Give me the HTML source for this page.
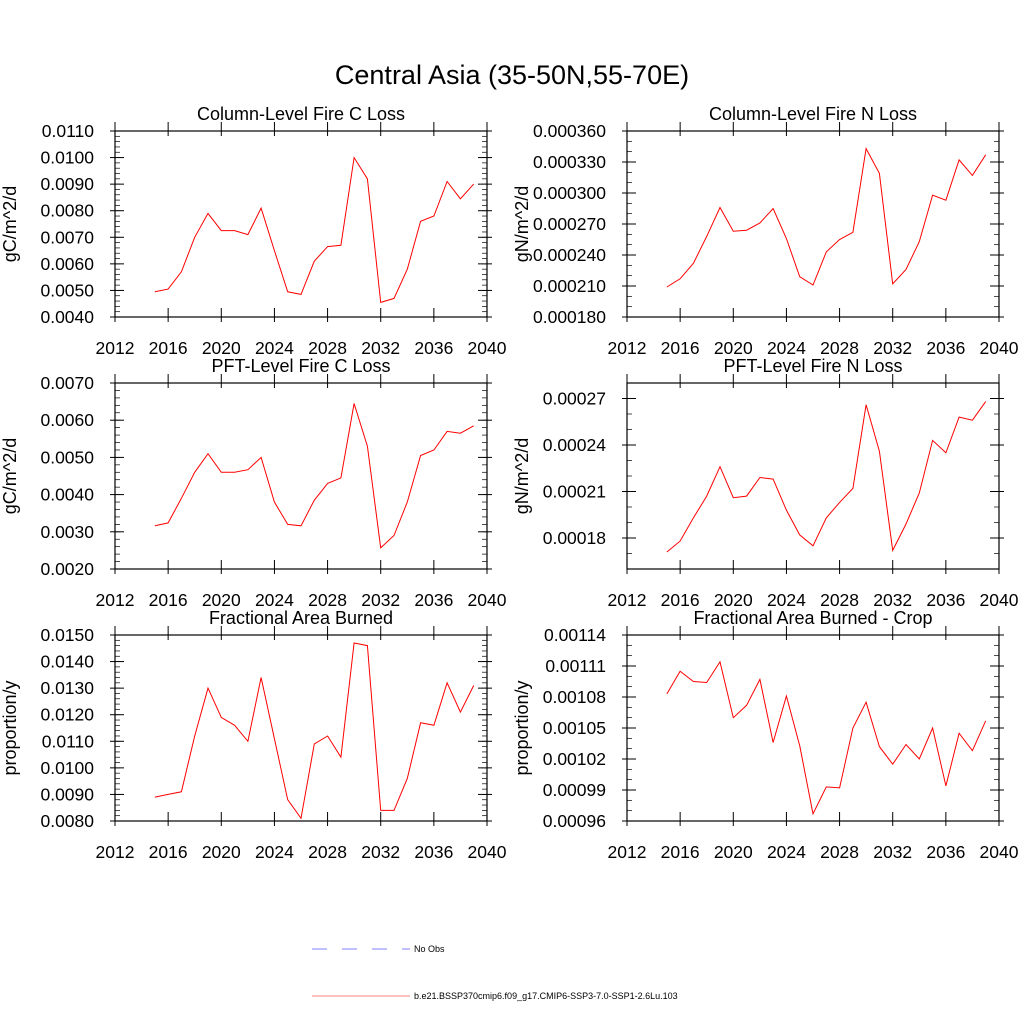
<!DOCTYPE html>
<html><head><meta charset="utf-8">
<style>
html,body{margin:0;padding:0;background:#fff;}
svg{display:block;font-family:"Liberation Sans",Arial,sans-serif;}
</style></head>
<body>
<svg id="chart" width="1024" height="1024" viewBox="0 0 1024 1024" xmlns="http://www.w3.org/2000/svg">
<text x="512" y="84" text-anchor="middle" font-size="27">Central Asia (35-50N,55-70E)</text>
<g>
<g>
<line x1="312" y1="949" x2="410" y2="949" stroke="#8080ff" stroke-width="1" stroke-dasharray="15,15"/>
<text x="414" y="952" font-size="9">No Obs</text>
</g>
<g>
<line x1="312" y1="996" x2="410" y2="996" stroke="#ff8080" stroke-width="1"/>
<text x="414" y="999" font-size="9">b.e21.BSSP370cmip6.f09_g17.CMIP6-SSP3-7.0-SSP1-2.6Lu.103</text>
</g>
</g>
</svg>
<script>
const years = [2015,2016,2017,2018,2019,2020,2021,2022,2023,2024,2025,2026,2027,2028,2029,2030,2031,2032,2033,2034,2035,2036,2037,2038,2039];
const xTickLabels = ["2012","2016","2020","2024","2028","2032","2036","2040"];
const colFireC = [0.00495,0.00505,0.0057,0.0070,0.0079,0.00725,0.00725,0.0071,0.0081,0.0065,0.00495,0.00485,0.0061,0.00665,0.0067,0.0100,0.0092,0.00455,0.0047,0.0058,0.0076,0.0078,0.0091,0.00845,0.0090];
const colFireN = [0.000209,0.000217,0.000232,0.000258,0.000286,0.000263,0.000264,0.000271,0.000285,0.000256,0.000219,0.000211,0.000243,0.000255,0.000262,0.000343,0.000319,0.000212,0.000226,0.000253,0.000298,0.000293,0.000332,0.000317,0.000337];
const pftFireC = [0.00316,0.00324,0.0039,0.0046,0.0051,0.0046,0.0046,0.00467,0.0050,0.0038,0.0032,0.00316,0.00385,0.0043,0.00445,0.00645,0.0053,0.00257,0.0029,0.0038,0.00505,0.0052,0.0057,0.00565,0.00585];
const pftFireN = [0.000171,0.000178,0.000193,0.000207,0.000226,0.000206,0.000207,0.000219,0.000218,0.000198,0.000182,0.000175,0.000193,0.000203,0.000212,0.000266,0.000236,0.000172,0.000189,0.000209,0.000243,0.000235,0.000258,0.000256,0.000268];
const fracBurn = [0.0089,0.0090,0.0091,0.0112,0.0130,0.0119,0.0116,0.0110,0.0134,0.0111,0.0088,0.0081,0.0109,0.0112,0.0104,0.0147,0.0146,0.0084,0.0084,0.0096,0.0117,0.0116,0.0132,0.0121,0.0131];
const fracBurnCrop = [0.001083,0.001105,0.001095,0.001094,0.001114,0.001060,0.001072,0.001097,0.001036,0.001081,0.001033,0.000967,0.000993,0.000992,0.001050,0.001075,0.001032,0.001015,0.001034,0.001020,0.001050,0.000994,0.001045,0.001028,0.001057];
const ticksColC = ["0.0040","0.0050","0.0060","0.0070","0.0080","0.0090","0.0100","0.0110"];
const ticksColN = ["0.000180","0.000210","0.000240","0.000270","0.000300","0.000330","0.000360"];
const ticksPftC = ["0.0020","0.0030","0.0040","0.0050","0.0060","0.0070"];
const ticksPftN = ["0.00018","0.00021","0.00024","0.00027"];
const ticksFrac = ["0.0080","0.0090","0.0100","0.0110","0.0120","0.0130","0.0140","0.0150"];
const ticksCrop = ["0.00096","0.00099","0.00102","0.00105","0.00108","0.00111","0.00114"];

const NS="http://www.w3.org/2000/svg";
const svg=document.getElementById('chart');
function mk(tag,attrs,parent){const e=document.createElementNS(NS,tag);for(const k in attrs)e.setAttribute(k,attrs[k]);parent.appendChild(e);return e;}

const panels=[
 {name:'column-fire-c',title:'Column-Level Fire C Loss',yt:'gC/m^2/d',data:colFireC,ticks:ticksColC,ymin:0.004,ymax:0.011,minor:0.0002,x0:115,y0:131},
 {name:'column-fire-n',title:'Column-Level Fire N Loss',yt:'gN/m^2/d',data:colFireN,ticks:ticksColN,ymin:0.00018,ymax:0.00036,minor:0.00001,x0:627,y0:131},
 {name:'pft-fire-c',title:'PFT-Level Fire C Loss',yt:'gC/m^2/d',data:pftFireC,ticks:ticksPftC,ymin:0.002,ymax:0.007,minor:0.0002,x0:115,y0:383},
 {name:'pft-fire-n',title:'PFT-Level Fire N Loss',yt:'gN/m^2/d',data:pftFireN,ticks:ticksPftN,ymin:0.00016,ymax:0.00028,minor:0.00001,x0:627,y0:383},
 {name:'fractional-area-burned',title:'Fractional Area Burned',yt:'proportion/y',data:fracBurn,ticks:ticksFrac,ymin:0.008,ymax:0.015,minor:0.0002,x0:115,y0:635},
 {name:'fractional-area-burned-crop',title:'Fractional Area Burned - Crop',yt:'proportion/y',data:fracBurnCrop,ticks:ticksCrop,ymin:0.00096,ymax:0.00114,minor:0.00001,x0:627,y0:635}
];
const W=372,H=186,XMIN=2012,XMAX=2040;
panels.forEach(p=>{
 const g=mk('g',{},svg);
 
 
 const xs=v=>p.x0+(v-XMIN)/(XMAX-XMIN)*W;
 const ys=v=>p.y0+H-(v-p.ymin)/(p.ymax-p.ymin)*H;
 const t=mk('text',{x:p.x0+W/2,y:p.y0-11,'text-anchor':'middle','font-size':18},g);
 t.textContent=p.title;
 
 
 const nMin=Math.round((p.ymax-p.ymin)/p.minor);
 for(let i=1;i<nMin;i++){const yy=p.y0+H-i/nMin*H;
  const l1=mk('line',{x1:p.x0,x2:p.x0+5,y1:yy,y2:yy,stroke:'#000','stroke-width':0.7},g);
  
  const l2=mk('line',{x1:p.x0+W-5,x2:p.x0+W,y1:yy,y2:yy,stroke:'#000','stroke-width':0.7},g);
  }
 p.ticks.forEach(s=>{const v=parseFloat(s);const yy=ys(v);
  const l1=mk('line',{x1:p.x0-5,x2:p.x0+9,y1:yy,y2:yy,stroke:'#000','stroke-width':1},g);
  
  const l2=mk('line',{x1:p.x0+W-9,x2:p.x0+W+5,y1:yy,y2:yy,stroke:'#000','stroke-width':1},g);
  
  const tx=mk('text',{x:p.x0-21,y:yy+6,'text-anchor':'end','font-size':17.5},g);
  tx.textContent=s;
  });
 xTickLabels.forEach(s=>{const xx=xs(parseFloat(s));
  const l1=mk('line',{x1:xx,x2:xx,y1:p.y0+H-9,y2:p.y0+H+5,stroke:'#000','stroke-width':1},g);
  
  const l2=mk('line',{x1:xx,x2:xx,y1:p.y0-9,y2:p.y0+5,stroke:'#000','stroke-width':1},g);
  
  const tx=mk('text',{x:xx,y:p.y0+H+37,'text-anchor':'middle','font-size':17.5},g);
  tx.textContent=s;
  });
 const fr=mk('rect',{x:p.x0,y:p.y0,width:W,height:H,fill:'none',stroke:'#000','stroke-width':1.2},g);
 
 const yt=mk('text',{x:0,y:0,'text-anchor':'middle','font-size':18,transform:`translate(${p.x0-99},${p.y0+H/2}) rotate(-90)`},g);
 yt.textContent=p.yt;
 
 const pts=p.data.map((v,i)=>xs(years[i]).toFixed(1)+','+ys(v).toFixed(1)).join(' ');
 const pl=mk('polyline',{points:pts,fill:'none',stroke:'#ff0000','stroke-width':1},g);
 
});
</script>
</body></html>
